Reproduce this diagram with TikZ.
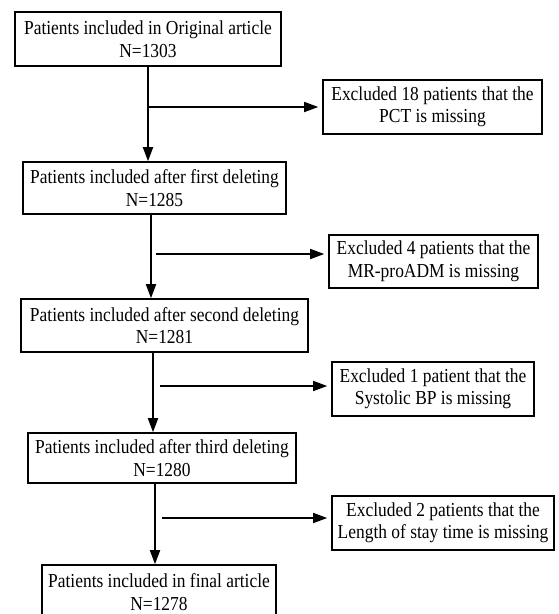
\documentclass[tikz,border=0pt]{standalone}
\usepackage{fontspec}
\setmainfont[FakeStretch=0.88]{Liberation Serif}
\usetikzlibrary{arrows.meta}

\tikzset{
  stagebox/.style={draw, line width=1.6pt, align=center, inner sep=0pt,
    font=\fontsize{19.8}{22.5}\selectfont},
  spine/.style={line width=1.8pt, -{Triangle[length=14pt,width=10pt]}},
  branch/.style={line width=1.6pt, -{Triangle[length=14pt,width=10pt]}, shorten >=4pt},
}

\begin{document}
\begin{tikzpicture}[x=1pt, y=-1pt]
  \useasboundingbox (0,0) rectangle (558,614);

  % main column
  \node[stagebox, minimum width=266pt, minimum height=54pt] (orig) at (148,39)
    {Patients included in Original article\\N=1303};
  \node[stagebox, minimum width=263pt, minimum height=52pt] (first) at (154.5,188)
    {Patients included after first deleting\\N=1285};
  \node[stagebox, minimum width=287pt, minimum height=53pt] (second) at (164.5,325.5)
    {Patients included after second deleting\\N=1281};
  \node[stagebox, minimum width=268pt, minimum height=50pt] (third) at (162,458)
    {Patients included after third deleting\\N=1280};
  \node[stagebox, minimum width=234pt, minimum height=54pt] (final) at (159,592)
    {Patients included in final article\\N=1278};

  % exclusions
  \node[stagebox, minimum width=219pt, minimum height=54pt] (exA) at (432.5,107)
    {Excluded 18 patients that the\\PCT is missing};
  \node[stagebox, minimum width=209pt, minimum height=53pt] (exB) at (433.5,261.5)
    {Excluded 4 patients that the\\MR-proADM is missing};
  \node[stagebox, minimum width=202pt, minimum height=54pt] (exC) at (433,389)
    {Excluded 1 patient that the\\Systolic BP is missing};
  \node[stagebox, minimum width=222pt, minimum height=54pt] (exD) at (443,523)
    {Excluded 2 patients that the\\Length of stay time is missing};

  % spine
  \coordinate (sB) at (151,0);
  \coordinate (sC) at (153,0);
  \coordinate (sD) at (155,0);
  \draw[spine] (orig.south) -- (orig.south |- first.north);
  \draw[spine] (sB |- first.south) -- (sB |- second.north);
  \draw[spine] (sC |- second.south) -- (sC |- third.north);
  \draw[spine] (sD |- third.south) -- (sD |- final.north);

  % branches
  \coordinate (bA) at (148,107);
  \coordinate (bB) at (156,254);
  \coordinate (bC) at (160,386);
  \coordinate (bD) at (162,518);
  \draw[branch] (bA) -- (bA -| exA.west);
  \draw[branch] (bB) -- (bB -| exB.west);
  \draw[branch] (bC) -- (bC -| exC.west);
  \draw[branch] (bD) -- (bD -| exD.west);
\end{tikzpicture}
\end{document}
